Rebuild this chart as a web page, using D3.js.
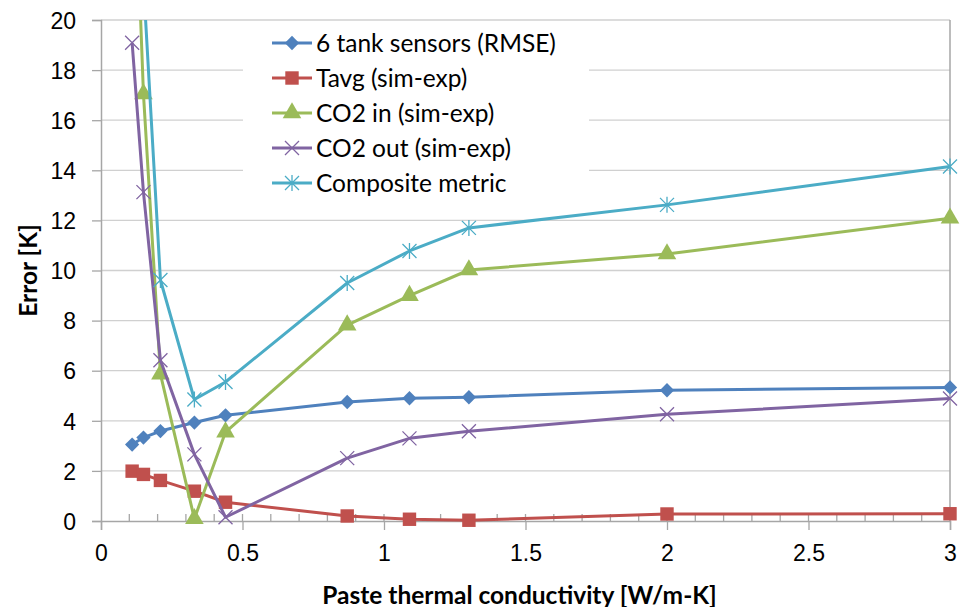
<!DOCTYPE html>
<html>
<head>
<meta charset="utf-8">
<script src="https://cdn.jsdelivr.net/npm/d3@7"></script>
<style>
  body { margin: 0; background: #fff; }
  svg { font-family: Lato, "Open Sans", sans-serif; }
</style>
</head>
<body>
<script>
// conductivity values [W/m-K]
var kValues = [0.11, 0.15, 0.21, 0.33, 0.44, 0.87, 1.09, 1.3, 2.0, 3.0];

var tankRmse  = [3.05, 3.33, 3.59, 3.93, 4.22, 4.75, 4.90, 4.94, 5.22, 5.33];
var tavgErr   = [1.99, 1.86, 1.62, 1.19, 0.75, 0.20, 0.07, 0.03, 0.28, 0.29];
var co2InErr  = [29.0, 17.05, 5.86, 0.09, 3.55, 7.82, 9.00, 10.02, 10.66, 12.09];
var co2OutErr = [19.09, 13.13, 6.42, 2.66, 0.15, 2.51, 3.30, 3.58, 4.26, 4.89];
var composite = [35.0, 21.5, 9.62, 4.85, 5.55, 9.50, 10.78, 11.70, 12.62, 14.15];

var seriesNames = ["6 tank sensors (RMSE)", "Tavg (sim-exp)", "CO2 in (sim-exp)", "CO2 out (sim-exp)", "Composite metric"];
var seriesColors = ["#4F81BD", "#C0504D", "#9BBB59", "#8064A2", "#4BACC6"];
var seriesMarkers = ["diamond", "square", "triangle", "cross", "star"];

var xTicks = [0, 0.5, 1, 1.5, 2, 2.5, 3];
var xTickLabels = ["0", "0.5", "1", "1.5", "2", "2.5", "3"];
var yTicks = [0, 2, 4, 6, 8, 10, 12, 14, 16, 18, 20];

var series = [tankRmse, tavgErr, co2InErr, co2OutErr, composite].map(function(vals, i) {
  return {
    name: seriesNames[i],
    color: seriesColors[i],
    marker: seriesMarkers[i],
    values: vals.map(function(v, j) { return {k: kValues[j], err: v}; })
  };
});

var W = 973, H = 607,
    margin = {top: 20, right: 23, bottom: 86, left: 101},
    width = W - margin.left - margin.right,
    height = H - margin.top - margin.bottom;

var svg = d3.select("body").append("svg")
    .attr("width", W)
    .attr("height", H);

var x = d3.scaleLinear().domain([0, 3]).range([0, width]),
    y = d3.scaleLinear().domain([0, 20]).range([height, 0]);

var g = svg.append("g").attr("transform", "translate(" + margin.left + "," + margin.top + ")");

// clip for the plot region
svg.append("defs").append("clipPath").attr("id", "plot")
  .append("rect").attr("x", -10).attr("y", 0).attr("width", width + 20).attr("height", height + 10);

// gridlines
g.append("g")
  .selectAll("line")
  .data(yTicks.filter(function(d) { return d > 0; }))
  .enter().append("line")
    .attr("x1", 0).attr("x2", width)
    .attr("y1", function(d) { return y(d); })
    .attr("y2", function(d) { return y(d); })
    .attr("stroke", "#d0d0d0")
    .attr("stroke-width", 1.3);

// right border
g.append("line")
  .attr("x1", width).attr("x2", width)
  .attr("y1", 0).attr("y2", height)
  .attr("stroke", "#a6a6a6").attr("stroke-width", 1.5);

// minor x ticks, inside
g.append("g")
  .selectAll("line")
  .data(d3.range(1, 30).map(function(i) { return i / 10; }))
  .enter().append("line")
    .attr("x1", function(d) { return x(d); })
    .attr("x2", function(d) { return x(d); })
    .attr("y1", height).attr("y2", height - 7)
    .attr("stroke", "#a6a6a6").attr("stroke-width", 1.3);

var xAxis = g.append("g")
    .attr("transform", "translate(0," + height + ")")
    .call(d3.axisBottom(x).tickValues(xTicks).tickSize(9).tickPadding(15)
      .tickFormat(function(d, i) { return xTickLabels[i]; }));

var yAxis = g.append("g")
    .call(d3.axisLeft(y).tickValues(yTicks).tickSize(9).tickPadding(16));

[xAxis, yAxis].forEach(function(ax) {
  ax.select(".domain").attr("stroke", "#a6a6a6").attr("stroke-width", 1.5);
  ax.selectAll(".tick line").attr("stroke", "#a6a6a6").attr("stroke-width", 1.3);
  ax.selectAll("text").attr("fill", "#000").style("font-size", "23px");
});
yAxis.selectAll("text").attr("dy", "0.36em");

// axis titles
svg.append("text")
  .attr("x", margin.left + x(1.5) - 6)
  .attr("y", 604)
  .attr("text-anchor", "middle")
  .style("font-size", "24.5px").style("font-weight", "bold")
  .text("Paste thermal conductivity [W/m-K]");

svg.append("text")
  .attr("transform", "translate(37," + (margin.top + height / 2) + ") rotate(-90)")
  .attr("text-anchor", "middle")
  .style("font-size", "24.5px").style("font-weight", "bold")
  .text("Error [K]");

// legend background (covers gridlines)
var legend = svg.append("g").attr("transform", "translate(243,21)");
legend.append("rect")
  .attr("width", 346).attr("height", 186)
  .attr("fill", "#fff");

function markerPath(type) {
  if (type === "diamond") return d3.symbol().type(d3.symbolDiamond2).size(130)();
  if (type === "square") return d3.symbol().type(d3.symbolSquare).size(180)();
  if (type === "triangle") return d3.symbol().type(d3.symbolTriangle).size(150)();
  if (type === "cross") return "M-7,-7L7,7M-7,7L7,-7";
  return "M-7,-7L7,7M-7,7L7,-7M0,-8L0,8";
}

function drawMarker(sel, s) {
  sel.append("path")
    .attr("d", markerPath(s.marker))
    .attr("fill", (s.marker === "cross" || s.marker === "star") ? "none" : s.color)
    .attr("stroke", s.color)
    .attr("stroke-width", (s.marker === "cross" || s.marker === "star") ? 1.3 : 0);
}

// lines + markers
var line = d3.line()
    .x(function(d) { return x(d.k); })
    .y(function(d) { return y(d.err); });

var plot = g.append("g").attr("clip-path", "url(#plot)");

var sg = plot.selectAll(".series")
  .data(series)
  .enter().append("g")
    .attr("class", "series");

sg.append("path")
  .attr("fill", "none")
  .attr("stroke", function(d) { return d.color; })
  .attr("stroke-width", 3)
  .attr("stroke-linejoin", "round")
  .attr("d", function(d) { return line(d.values); });

sg.each(function(s) {
  d3.select(this).selectAll(".pt")
    .data(s.values)
    .enter().append("g")
      .attr("class", "pt")
      .attr("transform", function(d) { return "translate(" + x(d.k) + "," + y(d.err) + ")"; })
      .each(function() { drawMarker(d3.select(this), s); });
});

// legend entries
var items = legend.selectAll(".item")
  .data(series)
  .enter().append("g")
    .attr("class", "item")
    .attr("transform", function(d, i) { return "translate(0," + (22 + i * 35) + ")"; });

items.append("line")
  .attr("x1", 29).attr("x2", 69)
  .attr("stroke", function(d) { return d.color; })
  .attr("stroke-width", 3);

items.each(function(s) {
  var m = d3.select(this).append("g").attr("transform", "translate(49,0)");
  drawMarker(m, s);
});

items.append("text")
  .attr("x", 73)
  .attr("dy", "0.35em")
  .style("font-size", "24.5px")
  .text(function(d) { return d.name; });
</script>
</body>
</html>
